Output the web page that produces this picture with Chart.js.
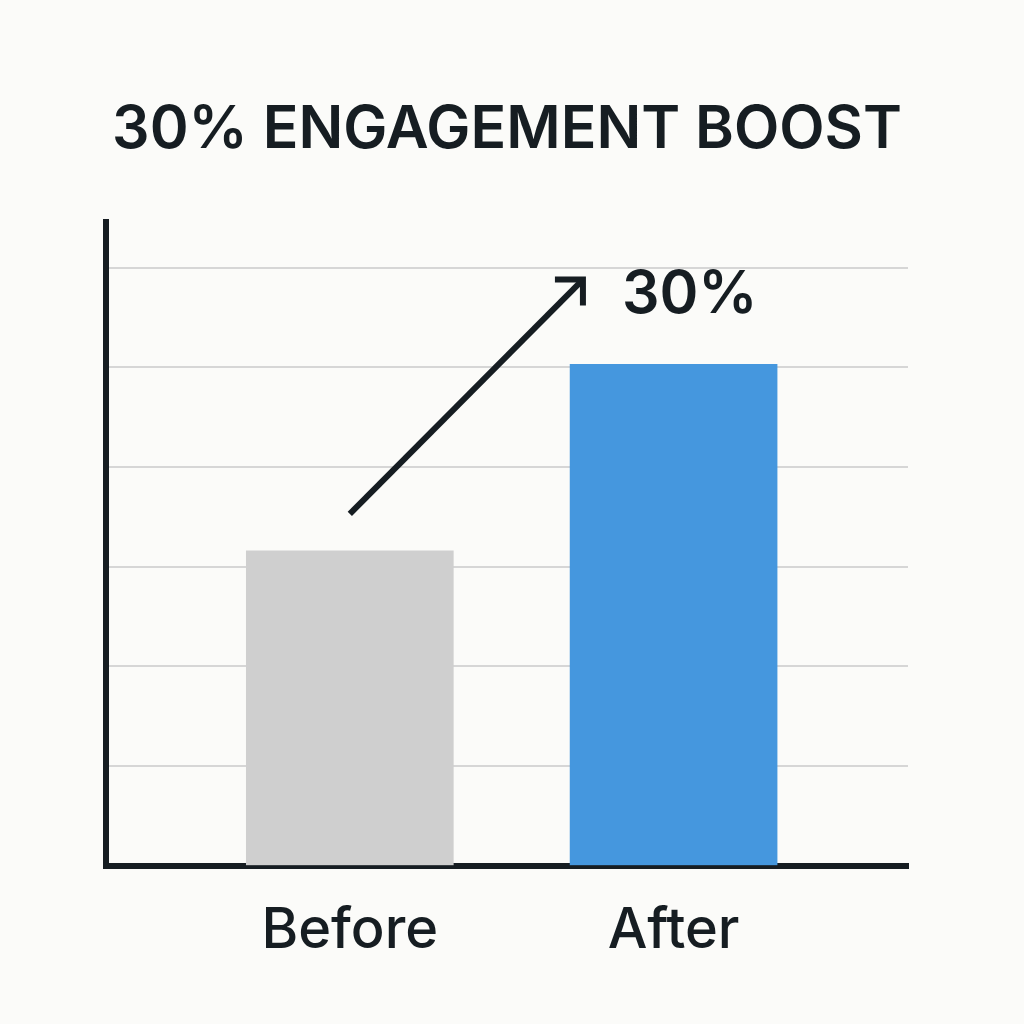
<!DOCTYPE html>
<html>
<head>
<meta charset="utf-8">
<script src="https://cdn.jsdelivr.net/npm/chart.js@4.4.0/dist/chart.umd.min.js"></script>
<style>
  html, body { margin: 0; padding: 0; background: #fbfbf9; }
  #wrap { width: 1024px; height: 1024px; }
</style>
</head>
<body>
<div id="wrap"><canvas id="canvas" width="1024" height="1024"></canvas></div>
<script>
var categories = ['Before', 'After'];
var engagement = [3.16, 5.03];
var barColors = ['#cfcfcf', '#4597de'];
var gridTicks = [0, 1, 2, 3, 4, 5, 6];

// arrow + label, in data units
var arrowFrom = [0.0, 3.53];
var arrowTo = [0.72, 5.88];
var boostLabel = '30%';
var boostLabelAt = [1.05, 5.72];

var ink = '#161d22';

var arrowPlugin = {
  id: 'arrow',
  afterDatasetsDraw: function(chart) {
    var ctx = chart.ctx;
    var xs = chart.scales.x, ys = chart.scales.y;
    var x1 = xs.getPixelForValue(arrowFrom[0]), y1 = ys.getPixelForValue(arrowFrom[1]);
    var x2 = xs.getPixelForValue(arrowTo[0]), y2 = ys.getPixelForValue(arrowTo[1]);
    ctx.save();
    ctx.strokeStyle = ink;
    ctx.lineWidth = 6;
    ctx.lineCap = 'butt';
    ctx.beginPath();
    ctx.moveTo(x1, y1);
    ctx.lineTo(x2, y2);
    ctx.stroke();
    ctx.beginPath();
    ctx.moveTo(x2 - 28, y2);
    ctx.lineTo(x2, y2);
    ctx.lineTo(x2, y2 + 26);
    ctx.stroke();

    ctx.fillStyle = ink;
    ctx.font = '600 59px Inter';
    ctx.textAlign = 'center';
    ctx.textBaseline = 'middle';
    ctx.fillText(boostLabel, xs.getPixelForValue(boostLabelAt[0]), ys.getPixelForValue(boostLabelAt[1]));
    ctx.restore();
  }
};

var ctx = document.getElementById('canvas').getContext('2d');
var myChart = new Chart(ctx, {
  type: 'bar',
  data: {
    datasets: [{
      data: categories.map(function(c, i) { return { x: i, y: engagement[i] }; }),
      backgroundColor: barColors,
      borderWidth: 0,
      barThickness: 207
    }]
  },
  options: {
    responsive: false,
    animation: false,
    layout: { padding: { left: 106, right: 116, top: 95, bottom: 27 } },
    plugins: {
      legend: { display: false },
      tooltip: { enabled: false },
      title: {
        display: true,
        text: '30% ENGAGEMENT BOOST',
        color: ink,
        font: { family: 'Inter', size: 59, weight: '600' },
        padding: { top: 0, bottom: 56 }
      }
    },
    scales: {
      x: {
        type: 'linear',
        offset: false,
        min: -0.753,
        max: 1.724,
        afterBuildTicks: function(axis) {
          axis.ticks = categories.map(function(c, i) { return { value: i }; });
        },
        ticks: {
          color: ink,
          font: { family: 'Inter', size: 56, weight: '500' },
          padding: 32,
          callback: function(v) { return categories[v]; }
        },
        grid: { display: false, drawTicks: false, offset: false },
        border: { display: true, color: ink, width: 6 }
      },
      y: {
        min: 0,
        max: 6.46,
        afterBuildTicks: function(axis) {
          axis.ticks = gridTicks.map(function(v) { return { value: v }; });
        },
        ticks: { display: false },
        grid: { color: '#d6d6d6', lineWidth: 2, drawTicks: false },
        border: { display: true, color: ink, width: 6 }
      }
    }
  },
  plugins: [arrowPlugin]
});
</script>
</body>
</html>
